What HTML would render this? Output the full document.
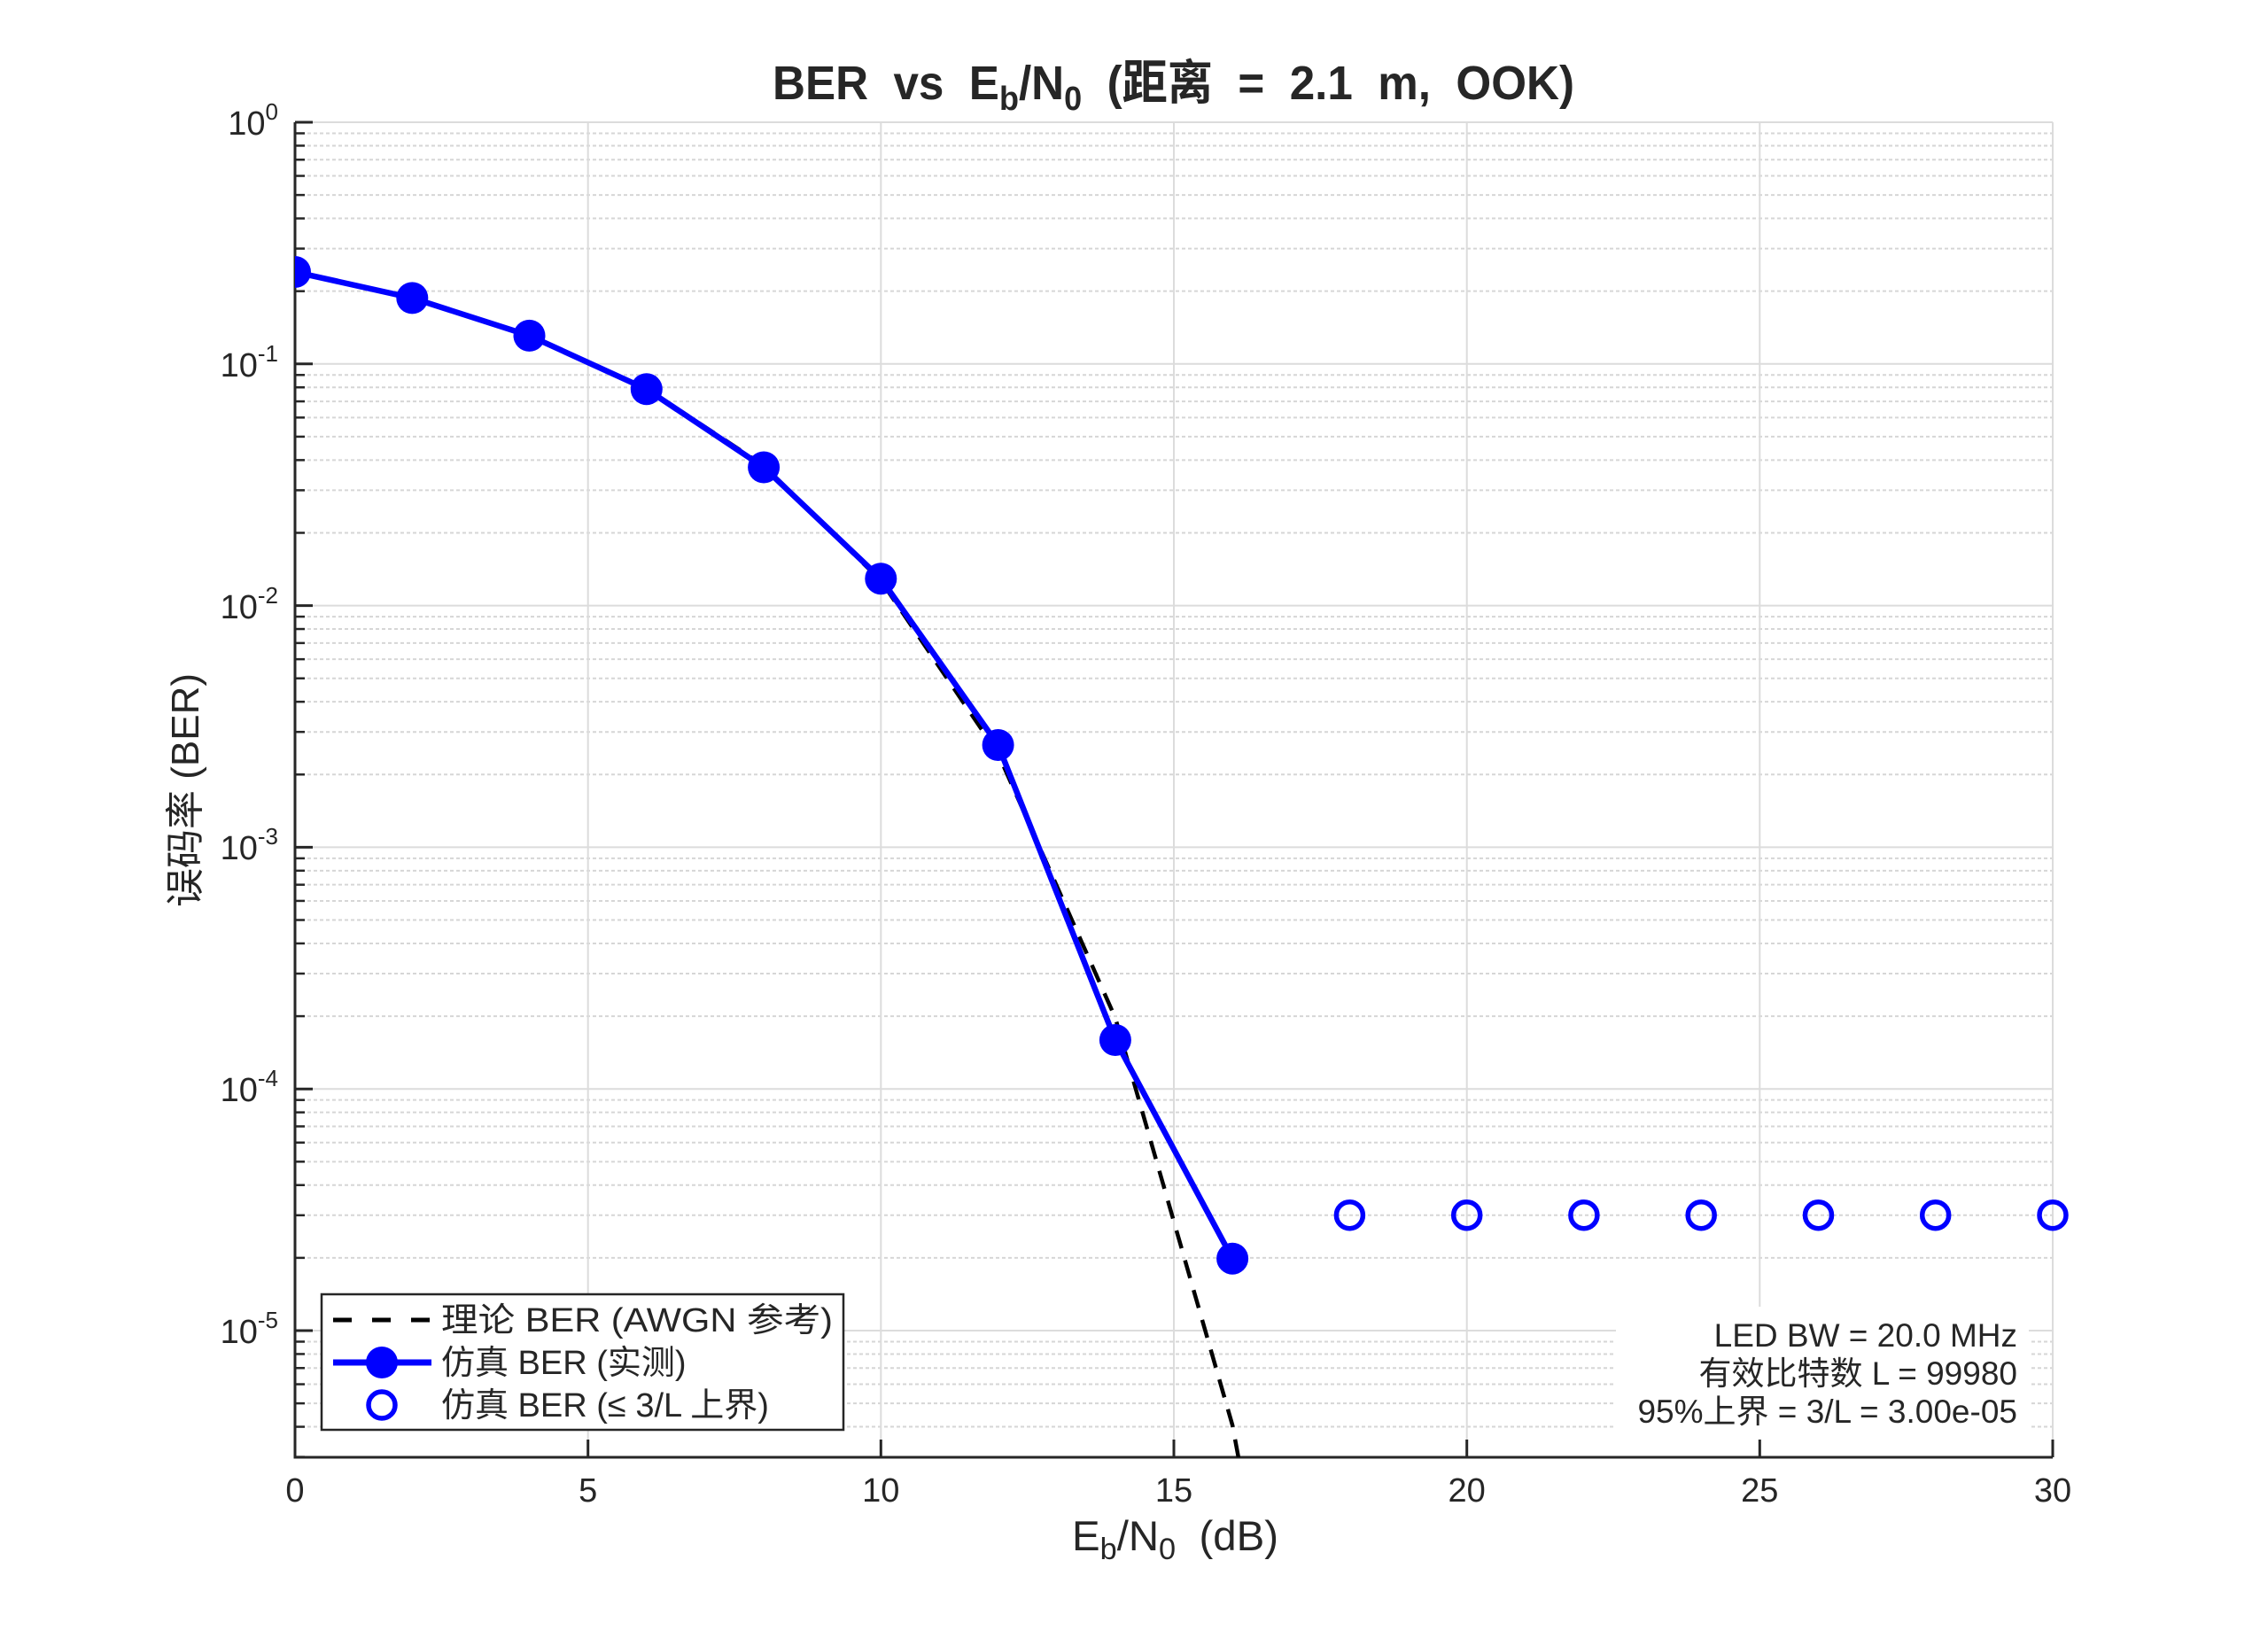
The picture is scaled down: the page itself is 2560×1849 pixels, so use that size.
<!DOCTYPE html>
<html><head><meta charset="utf-8"><style>
html,body{margin:0;padding:0;background:#fff;width:2560px;height:1849px;overflow:hidden}
svg{display:block}
text{font-family:"Liberation Sans","Noto Sans CJK SC",sans-serif;fill:#262626}
</style></head><body>
<svg width="2560" height="1849" viewBox="0 0 2560 1849" xmlns="http://www.w3.org/2000/svg" overflow="hidden">
<defs>
<clipPath id="pc"><rect x="333" y="138" width="1984" height="1507"/></clipPath>
<g id="dec">
 <g stroke="#d6d6d6" stroke-width="2" stroke-dasharray="4 3">
  <line x1="333" x2="2317" y1="12.48" y2="12.48"/><line x1="333" x2="2317" y1="26.44" y2="26.44"/>
  <line x1="333" x2="2317" y1="42.27" y2="42.27"/><line x1="333" x2="2317" y1="60.54" y2="60.54"/>
  <line x1="333" x2="2317" y1="82.12" y2="82.12"/><line x1="333" x2="2317" y1="108.56" y2="108.56"/>
  <line x1="333" x2="2317" y1="142.6" y2="142.6"/><line x1="333" x2="2317" y1="190.68" y2="190.68"/>
 </g>
 <g stroke="#262626" stroke-width="2.5">
  <line x1="333" x2="344" y1="12.48" y2="12.48"/><line x1="333" x2="344" y1="26.44" y2="26.44"/>
  <line x1="333" x2="344" y1="42.27" y2="42.27"/><line x1="333" x2="344" y1="60.54" y2="60.54"/>
  <line x1="333" x2="344" y1="82.12" y2="82.12"/><line x1="333" x2="344" y1="108.56" y2="108.56"/>
  <line x1="333" x2="344" y1="142.6" y2="142.6"/><line x1="333" x2="344" y1="190.68" y2="190.68"/>
 </g>
</g>
</defs>
<g clip-path="url(#pc)">
 <use href="#dec" transform="translate(0,138)"/>
 <use href="#dec" transform="translate(0,410.8)"/>
 <use href="#dec" transform="translate(0,683.6)"/>
 <use href="#dec" transform="translate(0,956.4)"/>
 <use href="#dec" transform="translate(0,1229.2)"/>
 <use href="#dec" transform="translate(0,1502)"/>
</g>
<g stroke="#dcdcdc" stroke-width="2">
 <line x1="333" x2="2317" y1="138" y2="138"/><line x1="333" x2="2317" y1="410.8" y2="410.8"/>
 <line x1="333" x2="2317" y1="683.6" y2="683.6"/><line x1="333" x2="2317" y1="956.4" y2="956.4"/>
 <line x1="333" x2="2317" y1="1229.2" y2="1229.2"/><line x1="333" x2="2317" y1="1502" y2="1502"/>
 <line x1="663.7" x2="663.7" y1="138" y2="1645"/><line x1="994.3" x2="994.3" y1="138" y2="1645"/>
 <line x1="1325" x2="1325" y1="138" y2="1645"/><line x1="1655.7" x2="1655.7" y1="138" y2="1645"/>
 <line x1="1986.3" x2="1986.3" y1="138" y2="1645"/><line x1="2317" x2="2317" y1="138" y2="1645"/>
</g>
<rect x="1824" y="1475" width="466" height="150" fill="#fff"/>
<g stroke="#262626" stroke-width="3" fill="none">
 <polyline points="333,138 333,1645 2317,1645"/>
 <line x1="333" x2="353" y1="138" y2="138"/><line x1="333" x2="353" y1="410.8" y2="410.8"/>
 <line x1="333" x2="353" y1="683.6" y2="683.6"/><line x1="333" x2="353" y1="956.4" y2="956.4"/>
 <line x1="333" x2="353" y1="1229.2" y2="1229.2"/><line x1="333" x2="353" y1="1502" y2="1502"/>
 <line x1="663.7" x2="663.7" y1="1645" y2="1625"/><line x1="994.3" x2="994.3" y1="1645" y2="1625"/>
 <line x1="1325" x2="1325" y1="1645" y2="1625"/><line x1="1655.7" x2="1655.7" y1="1645" y2="1625"/>
 <line x1="1986.3" x2="1986.3" y1="1645" y2="1625"/><line x1="2317" x2="2317" y1="1645" y2="1625"/>
</g>
<g clip-path="url(#pc)">
 <polyline fill="none" stroke="#000" stroke-width="4.5" stroke-dasharray="21 14" points="333,307.1 465.3,336.9 597.5,378.6 729.8,438.6 862.1,525.6 994.3,655.5 1126.6,850.8 1258.9,1149 1391.1,1608.7 1523.4,2320"/>
 <polyline fill="none" stroke="#0000ff" stroke-width="6.5" stroke-linejoin="round" points="333,307 465.3,336.4 597.5,378.9 729.8,439.3 862.1,527.5 994.3,653.2 1126.6,841 1258.9,1174 1391.1,1420.7"/>
 <g fill="#0000ff">
  <circle cx="333" cy="307" r="18"/><circle cx="465.3" cy="336.4" r="18"/><circle cx="597.5" cy="378.9" r="18"/>
  <circle cx="729.8" cy="439.3" r="18"/><circle cx="862.1" cy="527.5" r="18"/><circle cx="994.3" cy="653.2" r="18"/>
  <circle cx="1126.6" cy="841" r="18"/><circle cx="1258.9" cy="1174" r="18"/><circle cx="1391.1" cy="1420.7" r="18"/>
 </g>
</g>
<g fill="none" stroke="#0000ff" stroke-width="5.5">
 <circle cx="1523.4" cy="1371.7" r="15"/><circle cx="1655.7" cy="1371.7" r="15"/><circle cx="1787.9" cy="1371.7" r="15"/>
 <circle cx="1920.2" cy="1371.7" r="15"/><circle cx="2052.5" cy="1371.7" r="15"/><circle cx="2184.7" cy="1371.7" r="15"/>
 <circle cx="2317" cy="1371.7" r="15"/>
</g>
<g font-size="38" text-anchor="end">
 <text x="314" y="152">10<tspan font-size="26" dy="-17">0</tspan></text>
 <text x="314" y="425">10<tspan font-size="26" dy="-17">-1</tspan></text>
 <text x="314" y="698">10<tspan font-size="26" dy="-17">-2</tspan></text>
 <text x="314" y="970">10<tspan font-size="26" dy="-17">-3</tspan></text>
 <text x="314" y="1243">10<tspan font-size="26" dy="-17">-4</tspan></text>
 <text x="314" y="1516">10<tspan font-size="26" dy="-17">-5</tspan></text>
</g>
<g font-size="38" text-anchor="middle">
 <text x="333" y="1695">0</text><text x="663.7" y="1695">5</text><text x="994.3" y="1695">10</text>
 <text x="1325" y="1695">15</text><text x="1655.7" y="1695">20</text><text x="1986.3" y="1695">25</text>
 <text x="2317" y="1695">30</text>
</g>
<text x="872" y="112" font-size="54" font-weight="bold" textLength="905" lengthAdjust="spacingAndGlyphs" xml:space="preserve">BER  vs  E<tspan font-size="38" dy="12">b</tspan><tspan dy="-12">/N</tspan><tspan font-size="38" dy="12">0</tspan><tspan dy="-12">  (距离  =  2.1  m,  OOK)</tspan></text>
<text x="1210" y="1750" font-size="47" textLength="233" lengthAdjust="spacingAndGlyphs" xml:space="preserve">E<tspan font-size="34" dy="10">b</tspan><tspan dy="-10">/N</tspan><tspan font-size="34" dy="10">0</tspan><tspan dy="-10">  (dB)</tspan></text>
<text transform="translate(224,892) rotate(-90)" font-size="44" text-anchor="middle">误码率 (BER)</text>
<rect x="363" y="1461" width="589" height="153" fill="#fff" stroke="#262626" stroke-width="2.5"/>
<line x1="376" x2="487" y1="1490" y2="1490" stroke="#000" stroke-width="5" stroke-dasharray="21 23"/>
<line x1="376" x2="487" y1="1538" y2="1538" stroke="#0000ff" stroke-width="7"/>
<circle cx="431" cy="1538" r="18" fill="#0000ff"/>
<circle cx="431" cy="1586" r="15" fill="none" stroke="#0000ff" stroke-width="5.5"/>
<g font-size="38">
 <text x="498" y="1503" textLength="442" lengthAdjust="spacingAndGlyphs">理论 BER (AWGN 参考)</text>
 <text x="498" y="1551">仿真 BER (实测)</text>
 <text x="498" y="1599">仿真 BER (≤ 3/L 上界)</text>
</g>
<g font-size="37" text-anchor="end">
 <text x="2277" y="1520">LED BW = 20.0 MHz</text>
 <text x="2277" y="1563">有效比特数 L = 99980</text>
 <text x="2277" y="1606">95%上界 = 3/L = 3.00e-05</text>
</g>
</svg>
</body></html>
